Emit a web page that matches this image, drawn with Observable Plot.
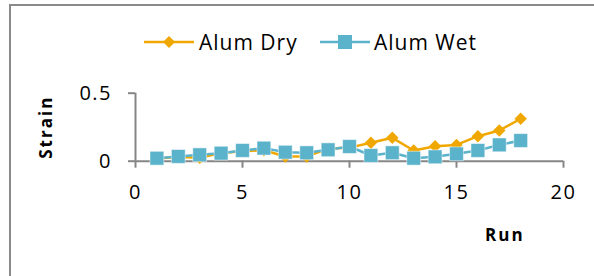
<!DOCTYPE html>
<html>
<head>
<meta charset="utf-8">
<script src="https://cdn.jsdelivr.net/npm/d3@7"></script>
<script src="https://cdn.jsdelivr.net/npm/@observablehq/plot@0.6"></script>
<style>
  html, body { margin: 0; padding: 0; background: #fff; overflow: hidden; }
  #wrap { position: relative; width: 594px; height: 276px; font-family: "Open Sans", sans-serif; }
  #frame { position: absolute; left: 9px; top: 4px; width: 700px; height: 400px;
           border-left: 2px solid #8a8a8a; border-top: 2px solid #8a8a8a; }
  #legend { position: absolute; top: 30px; left: 0; width: 594px; height: 24px; font-size: 21px; letter-spacing: 1px; color: #000; }
  .item { position: absolute; top: 0; display: flex; align-items: center; height: 24px; line-height: 24px; white-space: nowrap; }
  #runlabel { position: absolute; left: 485px; top: 223px; font-weight: bold; font-size: 17px; letter-spacing: 2px; }
  #chart g[aria-label="x-axis tick label"] text,
  #chart g[aria-label="y-axis tick label"] text { letter-spacing: 1.5px; }
  #chart g[aria-label="y-axis label"] text { font-weight: bold; letter-spacing: 2px; }
</style>
</head>
<body>
<div id="wrap">
  <div id="frame"></div>
  <div id="chart"></div>
  <div id="legend"></div>
  <div id="runlabel">Run</div>
</div>
<script>
const runs = [1,2,3,4,5,6,7,8,9,10,11,12,13,14,15,16,17,18];
const alumDry = [0.02,0.03,0.025,0.06,0.074,0.08,0.035,0.035,0.091,0.10,0.135,0.172,0.079,0.11,0.12,0.184,0.226,0.312];
const alumWet = [0.022,0.035,0.047,0.059,0.079,0.096,0.066,0.062,0.084,0.108,0.042,0.062,0.022,0.032,0.054,0.079,0.12,0.152];
const xTicks = [0,5,10,15,20];
const yTicks = [0,0.5];
const seriesNames = ["Alum Dry","Alum Wet"];
const colors = ["#F0A800","#5BB2CB"];

const dry = runs.map((r,i)=>({run:r, strain:alumDry[i]}));
const wet = runs.map((r,i)=>({run:r, strain:alumWet[i]}));

const axisColor = "#868686";
const plot = Plot.plot({
  width: 594,
  height: 276,
  marginLeft: 135,
  marginRight: 31,
  marginTop: 92.7,
  marginBottom: 115.3,
  style: { fontFamily: "Open Sans, sans-serif", fontSize: "20px", color: "#000", background: "transparent", overflow: "visible" },
  x: { domain: [0,20] },
  y: { domain: [0,0.5] },
  marks: [
    Plot.ruleY([0], { stroke: axisColor, strokeWidth: 2 }),
    Plot.ruleX([0], { y1: 0, y2: 0.5, stroke: axisColor, strokeWidth: 2 }),
    Plot.axisX({ ticks: xTicks, tickSize: 7, tickPadding: 17, stroke: axisColor, strokeWidth: 2, label: null, fill: "#000", fontSize: 20 }),
    Plot.axisY({ ticks: yTicks, tickSize: 7, tickPadding: 16.5, stroke: axisColor, strokeWidth: 2, tickFormat: d => String(d), fontSize: 20, fill: "#000",
                 label: null }),
    Plot.axisY({ ticks: [], tickSize: 0, label: "Strain", labelAnchor: "center", labelArrow: "none", labelOffset: 96, fill: "#000", fontSize: 17, fontWeight: "bold" }),
    Plot.line(dry, { x: "run", y: "strain", stroke: colors[0], strokeWidth: 2.5 }),
    Plot.dot(dry, { x: "run", y: "strain", symbol: "diamond2", r: 5.6, fill: colors[0], stroke: "none" }),
    Plot.line(wet, { x: "run", y: "strain", stroke: colors[1], strokeWidth: 2.5 }),
    Plot.dot(wet, { x: "run", y: "strain", symbol: "square", r: 7.8, fill: colors[1], stroke: "#fff", strokeWidth: 0.5 })
  ]
});
document.getElementById("chart").appendChild(plot);

// Legend
const legend = document.getElementById("legend");
const legendLeft = [144, 320];
const symbols = ["diamond","square"];
seriesNames.forEach((name,i)=>{
  const item = document.createElement("div");
  item.className = "item";
  item.style.left = legendLeft[i] + "px";
  const c = colors[i];
  const marker = symbols[i] === "diamond"
    ? `<polygon points="25,6 31,12 25,18 19,12" fill="${c}"/>`
    : `<rect x="18" y="5" width="14" height="14" fill="${c}"/>`;
  const gap = i === 0 ? 5 : 4;
  item.innerHTML = `<svg width="50" height="24" style="margin-right:${gap}px"><line x1="0" y1="12" x2="50" y2="12" stroke="${c}" stroke-width="2.5"/>${marker}</svg><span>${name}</span>`;
  legend.appendChild(item);
});
</script>
</body>
</html>
